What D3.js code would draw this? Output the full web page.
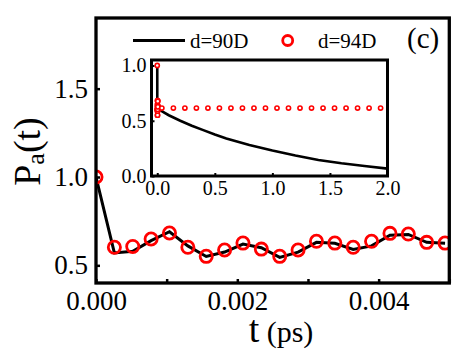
<!DOCTYPE html>
<html lang="en">
<head>
  <meta charset="utf-8" />
  <title>Pa(t)</title>
  <script src="https://cdn.jsdelivr.net/npm/d3@7"></script>
  <style type="text/css">
    body { margin: 0; background: white; }
    svg text { font-family: "Liberation Serif", "Times New Roman", Times, "DejaVu Serif", serif; fill: black; }
  </style>
</head>
<body>
<script type="text/javascript">

// main panel, t in ps
var tMain = [0, 0.00026, 0.00052, 0.00078, 0.00104, 0.0013, 0.00156, 0.00182, 0.00208, 0.00234,
             0.0026, 0.00286, 0.00312, 0.00338, 0.00364, 0.0039, 0.00416, 0.00442, 0.00468, 0.00494];
var d94Main = [1.0, 0.602, 0.607, 0.649, 0.683, 0.602, 0.551, 0.587, 0.626, 0.592,
               0.551, 0.587, 0.636, 0.626, 0.602, 0.636, 0.681, 0.677, 0.630, 0.626];
var d90Main = [1.0, 0.57, 0.58, 0.64, 0.69, 0.61, 0.55, 0.575, 0.62, 0.60,
               0.545, 0.575, 0.63, 0.625, 0.59, 0.61, 0.67, 0.675, 0.63, 0.625];

// inset, longer times
var tInsetLine = [0.02, 0.05, 0.1, 0.2, 0.3, 0.4, 0.5, 0.6, 0.7, 0.8, 0.9, 1.0, 1.2, 1.4, 1.6, 1.8, 2.0];
var d90Inset = [0.6, 0.58, 0.55, 0.50, 0.455, 0.415, 0.375, 0.34, 0.31, 0.28, 0.255, 0.23, 0.185, 0.145, 0.115, 0.09, 0.067];
var tInsetDots = [0.04, 0.14, 0.24, 0.34, 0.44, 0.54, 0.64, 0.74, 0.84, 0.94,
                  1.04, 1.14, 1.24, 1.34, 1.44, 1.54, 1.64, 1.74, 1.84, 1.94];
var d94Inset = [0.615, 0.615, 0.615, 0.615, 0.615, 0.615, 0.615, 0.615, 0.615, 0.615,
                0.615, 0.615, 0.615, 0.615, 0.615, 0.615, 0.615, 0.615, 0.615, 0.615];

var xTicksMain = [0, 0.001, 0.002, 0.003, 0.004, 0.005];
var xLabelsMain = [0, 0.002, 0.004];
var yTicksMain = [0.5, 1.0, 1.5];
var xTicksInset = [0, 0.5, 1.0, 1.5, 2.0];
var yTicksInset = [0, 0.5, 1.0];

var serif = "'Liberation Serif', 'Times New Roman', Times, 'DejaVu Serif', serif";
var w = 472, h = 354;
var m = {left: 96, right: 449.3, top: 18, bottom: 283};
var ins = {left: 151.5, right: 387.5, top: 60, bottom: 176};

var svg = d3.select("body").append("svg").attr("width", w).attr("height", h)
            .attr("font-family", serif);

var x = d3.scaleLinear().domain([0, 0.005]).range([m.left, m.right]);
var y = d3.scaleLinear().domain([0.4, 1.9]).range([m.bottom, m.top]);
var xi = d3.scaleLinear().domain([-0.05, 2.0]).range([ins.left, ins.right]);
var yi = d3.scaleLinear().domain([0, 1.05]).range([ins.bottom, ins.top]);

svg.append("clipPath").attr("id", "clipMain").append("rect")
   .attr("x", m.left).attr("y", m.top)
   .attr("width", m.right - m.left).attr("height", m.bottom - m.top);

// main axes
var xAxis = d3.axisBottom(x).tickValues(xTicksMain).tickSizeInner(-4).tickSizeOuter(0).tickPadding(8)
              .tickFormat(function(d) { return xLabelsMain.some(function(v) { return Math.abs(v - d) < 1e-9; }) ? d3.format(".3f")(d) : ""; });
var yAxis = d3.axisLeft(y).tickValues(yTicksMain).tickSizeInner(-4).tickSizeOuter(0).tickPadding(8)
              .tickFormat(d3.format(".1f"));
svg.append("g").attr("transform", "translate(0," + m.bottom + ")").call(xAxis);
svg.append("g").attr("transform", "translate(" + m.left + ",0)").call(yAxis);
svg.selectAll("g").attr("font-family", serif);
svg.selectAll(".domain").remove();
svg.selectAll(".tick line").attr("stroke", "black").attr("stroke-width", 2.5);
svg.selectAll(".tick text").attr("font-size", 27).attr("fill", "black");

// main data
var gMain = svg.append("g").attr("clip-path", "url(#clipMain)");
var line = d3.line().x(function(d) { return x(d[0]); }).y(function(d) { return y(d[1]); });
gMain.append("path")
     .datum(d3.zip(tMain, d90Main))
     .attr("d", line)
     .attr("fill", "none").attr("stroke", "black").attr("stroke-width", 3);
gMain.selectAll("circle")
     .data(d3.zip(tMain, d94Main))
     .enter().append("circle")
     .attr("cx", function(d) { return x(d[0]); })
     .attr("cy", function(d) { return y(d[1]); })
     .attr("r", 6.1)
     .attr("fill", "none").attr("stroke", "#ff0000").attr("stroke-width", 2.8);

// main frame
svg.append("rect")
   .attr("x", m.left).attr("y", m.top)
   .attr("width", m.right - m.left).attr("height", m.bottom - m.top)
   .attr("fill", "none").attr("stroke", "black").attr("stroke-width", 3.3);

// legend
svg.append("line").attr("x1", 133).attr("x2", 185).attr("y1", 40.5).attr("y2", 40.5)
   .attr("stroke", "black").attr("stroke-width", 3);
svg.append("text").attr("x", 190).attr("y", 47.5).attr("font-size", 21).text("d=90D");
svg.append("circle").attr("cx", 287.7).attr("cy", 40.5).attr("r", 5)
   .attr("fill", "none").attr("stroke", "#ff0000").attr("stroke-width", 2.8);
svg.append("text").attr("x", 318).attr("y", 47.5).attr("font-size", 21).text("d=94D");
svg.append("text").attr("x", 407).attr("y", 48).attr("font-size", 29).text("(c)");

// inset
var gIn = svg.append("g");
gIn.append("rect")
   .attr("x", ins.left).attr("y", ins.top)
   .attr("width", ins.right - ins.left).attr("height", ins.bottom - ins.top)
   .attr("fill", "white");
var xAxisI = d3.axisBottom(xi).tickValues(xTicksInset).tickSizeInner(-3).tickSizeOuter(0).tickPadding(5)
               .tickFormat(d3.format(".1f"));
var yAxisI = d3.axisLeft(yi).tickValues(yTicksInset).tickSizeInner(-3).tickSizeOuter(0).tickPadding(5)
               .tickFormat(d3.format(".1f"));
gIn.append("g").attr("transform", "translate(0," + ins.bottom + ")").call(xAxisI);
gIn.append("g").attr("transform", "translate(" + ins.left + ",0)").call(yAxisI);
gIn.selectAll("g").attr("font-family", serif);
gIn.selectAll(".domain").remove();
gIn.selectAll(".tick line").attr("stroke", "black").attr("stroke-width", 2);
gIn.selectAll(".tick text").attr("font-size", 20).attr("fill", "black");

var lineI = d3.line().x(function(d) { return xi(d[0]); }).y(function(d) { return yi(d[1]); });
gIn.append("path")
   .datum(d3.zip(tMain, d90Main).concat(d3.zip(tInsetLine, d90Inset)))
   .attr("d", lineI)
   .attr("fill", "none").attr("stroke", "black").attr("stroke-width", 2.6);
gIn.selectAll("circle.d94")
   .data(d3.zip(tMain, d94Main).concat(d3.zip(tInsetDots, d94Inset)))
   .enter().append("circle")
   .attr("class", "d94")
   .attr("cx", function(d) { return xi(d[0]); })
   .attr("cy", function(d) { return yi(d[1]); })
   .attr("r", 2.1)
   .attr("fill", "white").attr("stroke", "#ff0000").attr("stroke-width", 1.6);
gIn.append("rect")
   .attr("x", ins.left).attr("y", ins.top)
   .attr("width", ins.right - ins.left).attr("height", ins.bottom - ins.top)
   .attr("fill", "none").attr("stroke", "black").attr("stroke-width", 3);

// axis titles
var yt = svg.append("text").attr("transform", "translate(40,151.5) rotate(-90)")
            .attr("text-anchor", "middle");
yt.append("tspan").attr("font-size", 38).text("P");
yt.append("tspan").attr("font-size", 26).attr("dy", 4).text("a");
yt.append("tspan").attr("font-size", 38).attr("dy", -4).text("(t)");

var xt = svg.append("text").attr("x", 281).attr("y", 342).attr("text-anchor", "middle");
xt.append("tspan").attr("font-size", 38).text("t");
xt.append("tspan").attr("font-size", 30).text(" (ps)");

</script>
</body>
</html>
